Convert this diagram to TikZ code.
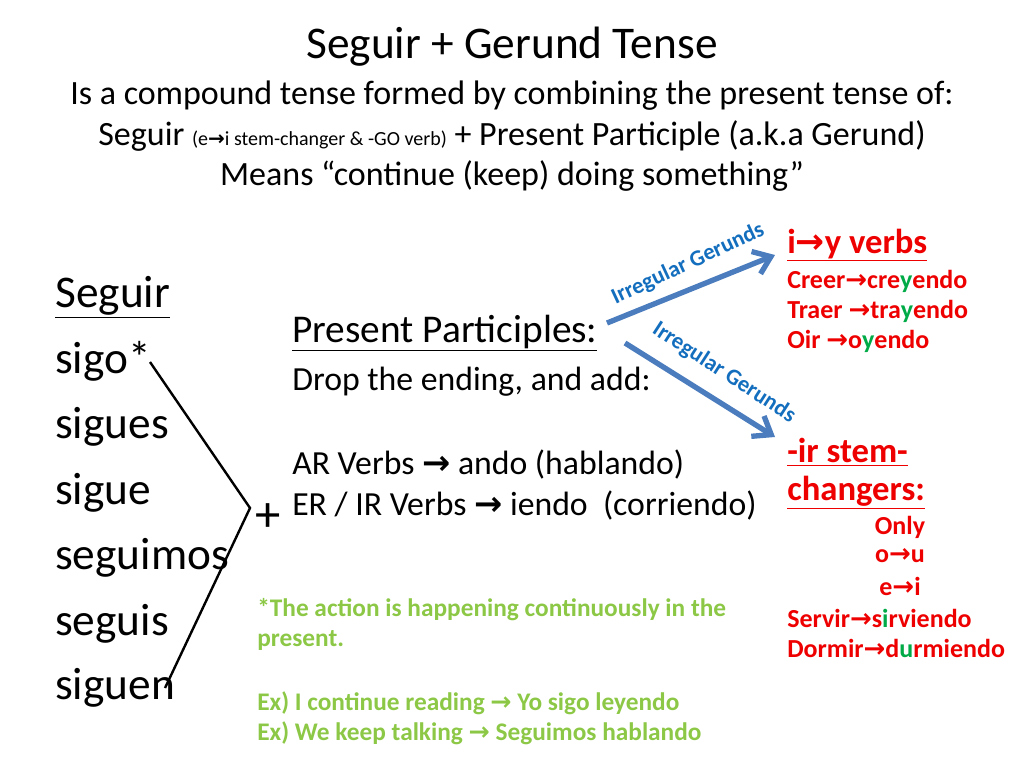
\documentclass[tikz,border=0pt]{standalone}
\usetikzlibrary{arrows.meta}
\usepackage{fontspec}
\setmainfont{Carlito}
\newfontfamily\symf{DejaVu Sans}
\definecolor{rd}{RGB}{238,0,0}
\definecolor{gr}{RGB}{0,170,70}
\definecolor{lg}{RGB}{140,200,70}
\definecolor{bl}{RGB}{75,125,190}
\definecolor{lb}{RGB}{20,110,190}
\newcommand{\ar}{{\symf\bfseries →}}
\newcommand{\fs}[1]{\fontsize{#1}{#1}\selectfont}
\begin{document}
\begin{tikzpicture}[x=0.75pt,y=-0.75pt,
 t/.style={anchor=west,inner sep=0},
 red/.style={t,text=rd,font=\fs{19.5}\bfseries},
 grn/.style={t,text=lg,font=\fs{19}\bfseries},
 lst/.style={t,font=\fs{34}}]
\useasboundingbox (0,0) rectangle (1024,768);
\node[font=\fs{34}] (title) at (512,47) {Seguir + Gerund Tense};
\node[font=\fs{25.5}] (l1) at (512,96) {Is a compound tense formed by combining the present tense of:};
\node[font=\fs{25.5}] (l2) at (512,136) {Seguir {\fs{15}(e\ar i stem-changer \& -GO verb)} + Present Participle (a.k.a Gerund)};
\node[font=\fs{25.5}] (l3) at (512,176) {Means “continue (keep) doing something”};
\node[lst] (s0) at (55,297) {\underline{Seguir}};
\node[lst] (s1) at (55,361) {sigo*};
\node[lst] (s2) at (55,427) {sigues};
\node[lst] (s3) at (55,493) {sigue};
\node[lst] (s4) at (55,558) {seguimos};
\node[lst] (s5) at (55,624) {seguis};
\node[lst] (s6) at (55,688) {siguen};
\coordinate (b1) at (150,362);
\coordinate (b2) at (250,508);
\coordinate (b3) at (165,688);
\draw[line width=1.8pt] (b1) -- (b2) -- (b3);
\node[font=\fs{38}] (plus) at (268,518) {+};
\node[t,font=\fs{29.5}] (pp) at (292,333) {\underline{Present Participles:}};
\node[t,font=\fs{25.3}] (d) at (292,382) {Drop the ending, and add:};
\node[t,font=\fs{25.3}] (ar) at (292,464) {AR Verbs \ar\ ando (hablando)};
\node[t,font=\fs{25.3}] (er) at (292,505) {ER / IR Verbs \ar\ iendo\ \ (corriendo)};
\node[grn] (g1) at (257,610) {*The action is happening continuously in the};
\node[grn] (g2) at (257,640) {present.};
\node[grn] (g3) at (257,703) {Ex) I continue reading \ar\ Yo sigo leyendo};
\node[grn] (g4) at (257,733) {Ex) We keep talking \ar\ Seguimos hablando};
\node[red,font=\fs{26}\bfseries] (h1) at (787,245) {\underline{i\ar y verbs}};
\node[red] (r1) at (787,281) {Creer\ar cre{\color{gr}y}endo};
\node[red] (r2) at (787,311) {Traer \ar tra{\color{gr}y}endo};
\node[red] (r3) at (787,341) {Oir \ar o{\color{gr}y}endo};
\node[red,font=\fs{26}\bfseries] (h2) at (787,452) {\underline{-ir stem-}};
\node[red,font=\fs{26}\bfseries] (h3) at (787,493) {\underline{changers:}};
\node[red,anchor=center] (o1) at (900,527) {Only};
\node[red,anchor=center] (o2) at (900,556) {o\ar u};
\node[red,anchor=center] (o3) at (900,586) {e\ar i};
\node[red] (r4) at (787,618) {Servir\ar s{\color{gr}i}rviendo};
\node[red] (r5) at (787,648) {Dormir\ar d{\color{gr}u}rmiendo};
\coordinate (a1s) at (607,323); \coordinate (a1e) at (775,255);
\coordinate (a2s) at (625,343); \coordinate (a2e) at (775,437);
\draw[bl,line width=4pt,-{Straight Barb[length=12pt,width=18pt]}] (a1s) -- (a1e);
\draw[bl,line width=4pt,-{Straight Barb[length=12pt,width=18pt]}] (a2s) -- (a2e);
\node[text=lb,font=\fs{17}\bfseries,rotate=25] (lab1) at (688,264) {Irregular Gerunds};
\node[text=lb,font=\fs{17}\bfseries,rotate=-33] (lab2) at (724,373) {Irregular Gerunds};
\end{tikzpicture}
\end{document}
